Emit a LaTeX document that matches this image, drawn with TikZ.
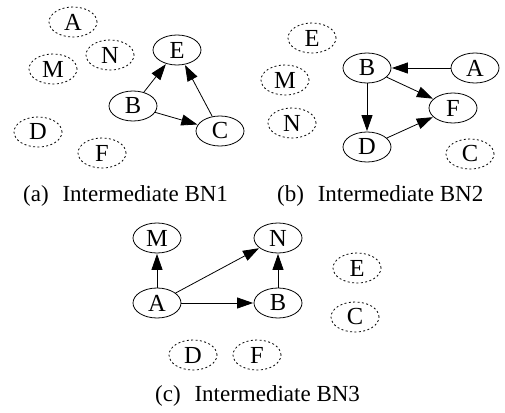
\documentclass[tikz,border=0pt]{standalone}
\usepackage{fontspec}
\setmainfont{Liberation Serif}
\usetikzlibrary{shapes.geometric,arrows.meta}

\tikzset{
  var/.style={ellipse, draw, line width=0.8pt, minimum width=48pt, minimum height=30pt,
    inner sep=0pt, font=\fontsize{24.5}{27}\selectfont},
  iso/.style={var, dash pattern=on 2pt off 2.4pt},
  edge/.style={line width=0.8pt, -{Triangle[length=16pt,width=11pt]}, shorten >=0.5pt},
  captext/.style={anchor=base west, inner sep=0pt, font=\fontsize{23}{26}\selectfont}
}

\begin{document}
\begin{tikzpicture}[x=1pt,y=-1pt]
\useasboundingbox (0,0) rectangle (505,412);

% (a) first intermediate network
\node[iso] (a-A) at (73,22)  {A};
\node[iso] (a-N) at (110,55) {N};
\node[iso] (a-M) at (53,69)  {M};
\node[iso] (a-D) at (38,132) {D};
\node[iso] (a-F) at (102,153){F};
\node[var] (a-E) at (177,50) {E};
\node[var] (a-B) at (133,106){B};
\node[var] (a-C) at (220,131){C};
\draw[edge] (a-B) -- (a-E);
\draw[edge] (a-B) -- (a-C);
\draw[edge] (a-C) -- (a-E);
\node[captext] (capA) at (23,201) {(a)\hspace{0.6em}Intermediate BN1};

% (b) second intermediate network
\node[iso] (b-E) at (312,38) {E};
\node[iso] (b-M) at (285,80) {M};
\node[iso] (b-N) at (292,123){N};
\node[iso] (b-C) at (470,154){C};
\node[var] (b-B) at (367,68) {B};
\node[var] (b-A) at (475,68) {A};
\node[var] (b-F) at (453,108){F};
\node[var] (b-D) at (367,147){D};
\draw[edge] (b-A) -- (b-B);
\draw[edge] (b-B) -- (b-F);
\draw[edge] (b-B) -- (b-D);
\draw[edge] (b-D) -- (b-F);
\node[captext] (capB) at (277,201) {(b)\hspace{0.6em}Intermediate BN2};

% (c) third intermediate network
\node[var] (c-M) at (157,238){M};
\node[var] (c-N) at (278,238){N};
\node[var] (c-A) at (157,303){A};
\node[var] (c-B) at (278,303){B};
\node[iso] (c-E) at (357,268){E};
\node[iso] (c-C) at (355,317){C};
\node[iso] (c-D) at (193,355){D};
\node[iso] (c-F) at (257,355){F};
\draw[edge] (c-A) -- (c-M);
\draw[edge] (c-A) -- (c-N);
\draw[edge] (c-A) -- (c-B);
\draw[edge] (c-B) -- (c-N);
\node[captext] (capC) at (155,401) {(c)\hspace{0.6em}Intermediate BN3};
\end{tikzpicture}
\end{document}
